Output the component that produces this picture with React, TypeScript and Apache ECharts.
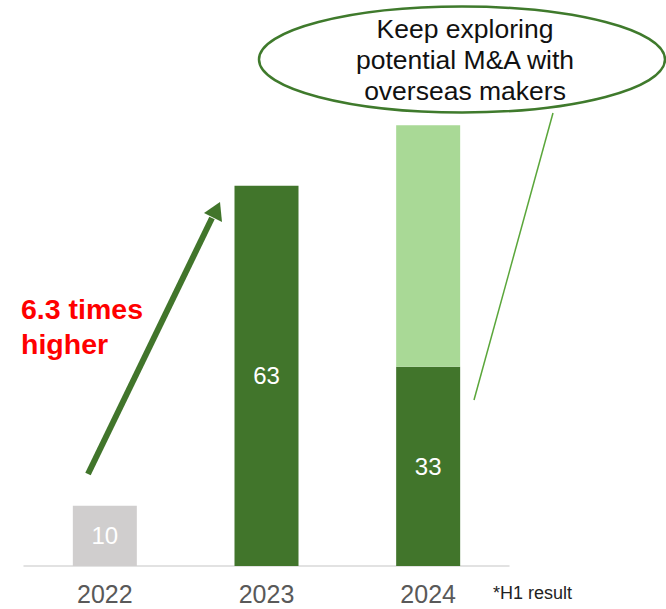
import React, { useEffect, useRef } from "react";
import * as echarts from "echarts";

const categories = ["2022", "2023", "2024"];
const actualValues = [10, 63, 33];
const plannedValues = [0, 0, 40];
const barColors = ["#d0cece", "#41752b", "#41752b"];
const plannedColor = "#a9d996";
const calloutText = "Keep exploring\npotential M&A with\noverseas makers";
const growthText = "6.3 times\nhigher";
const noteText = "*H1 result";

const FONT = "'Liberation Sans', Arial, sans-serif";

export default function App() {
  const ref = useRef<HTMLDivElement>(null);
  useEffect(() => {
    if (!ref.current) return;
    const chart = echarts.init(ref.current, null, { renderer: "svg" });
    const option: any = {
      animation: false,
      backgroundColor: "#ffffff",
      textStyle: { fontFamily: FONT },
      grid: { left: 24, width: 485, top: 83, bottom: 43, containLabel: false },
      xAxis: {
        type: "category",
        data: categories,
        axisLine: { show: true, lineStyle: { color: "#d9d9d9", width: 1.5 } },
        axisTick: { show: false },
        axisLabel: {
          color: "#595959",
          fontSize: 25,
          margin: 15,
          fontFamily: FONT,
        },
      },
      yAxis: {
        type: "value",
        min: 0,
        max: 80,
        show: false,
        splitLine: { show: false },
      },
      series: [
        {
          type: "bar",
          stack: "total",
          barWidth: 64,
          data: actualValues.map((v, i) => ({ value: v, itemStyle: { color: barColors[i] } })),
          label: {
            show: true,
            position: "inside",
            color: "#ffffff",
            fontSize: 24,
            fontFamily: FONT,
          },
        },
        {
          type: "bar",
          stack: "total",
          barWidth: 64,
          data: plannedValues.map((v) => (v ? v : null)),
          itemStyle: { color: plannedColor },
          label: { show: false },
        },
      ],
      graphic: [
        {
          type: "line",
          shape: { x1: 553, y1: 113, x2: 474, y2: 400 },
          style: { stroke: "#5aa63a", lineWidth: 1.5 },
          z: 10,
        },
        {
          type: "ellipse",
          shape: { cx: 462, cy: 59.5, rx: 203, ry: 53 },
          style: { fill: "#ffffff", stroke: "#3f7a2c", lineWidth: 2.5 },
          z: 11,
        },
        {
          type: "text",
          x: 465,
          y: 60,
          style: {
            text: calloutText,
            fontSize: 26.5,
            fontFamily: FONT,
            fill: "#111111",
            align: "center",
            verticalAlign: "middle",
            lineHeight: 31,
          },
          z: 12,
        },
        {
          type: "line",
          shape: { x1: 88, y1: 474, x2: 212, y2: 218 },
          style: { stroke: "#41752b", lineWidth: 6 },
          z: 10,
        },
        {
          type: "polygon",
          shape: { points: [[220, 202], [222, 222], [204, 213]] },
          style: { fill: "#41752b" },
          z: 10,
        },
        {
          type: "text",
          x: 21,
          y: 326.5,
          style: {
            text: growthText,
            fontSize: 28.5,
            fontWeight: "bold",
            fontFamily: FONT,
            fill: "#ff0000",
            align: "left",
            verticalAlign: "middle",
            lineHeight: 35,
          },
          z: 10,
        },
        {
          type: "text",
          x: 493,
          y: 593,
          style: {
            text: noteText,
            fontSize: 18,
            fontFamily: FONT,
            fill: "#222222",
            align: "left",
            verticalAlign: "middle",
          },
          z: 10,
        },
      ],
    };
    chart.setOption(option);
    return () => chart.dispose();
  }, []);
  return (
    <div
      ref={ref}
      style={{ position: "fixed", left: 0, top: 0, width: 666, height: 609 }}
    />
  );
}
